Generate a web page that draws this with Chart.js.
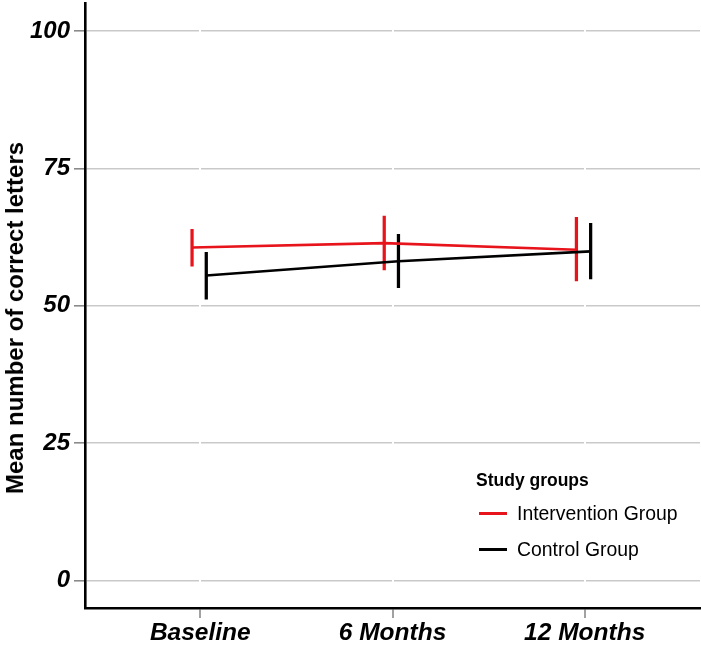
<!DOCTYPE html>
<html>
<head>
<meta charset="utf-8">
<script src="https://cdn.jsdelivr.net/npm/chart.js@4/dist/chart.umd.min.js"></script>
<style>
html,body{margin:0;padding:0;background:#fff;}
#wrap{position:relative;width:701px;height:645px;overflow:hidden;}
#c{position:absolute;left:0;top:0;}
.lg{position:absolute;font-family:"Liberation Sans",Arial,sans-serif;color:#000;white-space:nowrap;line-height:1;}
.lgTitle{font-weight:bold;font-size:17.5px;}
.lgText{font-size:19.4px;}
.lgLine{position:absolute;height:3px;width:28px;}
#ytitle{position:absolute;left:15px;top:318px;transform:translate(-50%,-50%) rotate(-90deg);font-family:"Liberation Sans",Arial,sans-serif;font-weight:bold;font-size:24px;line-height:1;white-space:nowrap;color:#000;}
</style>
</head>
<body>
<div id="wrap">
<canvas id="c" width="701" height="645"></canvas>
<div id="ytitle"></div>
<div id="legend"></div>
</div>
<script>
// ---- data ----
const timepoints = ['Baseline', '6 Months', '12 Months'];
const groupNames = ['Intervention Group', 'Control Group'];
const legendTitle = 'Study groups';
const yTitle = 'Mean number of correct letters';
const interventionMean = [60.6, 61.4, 60.2];
const interventionLow  = [57.2, 56.5, 54.5];
const interventionHigh = [63.9, 66.3, 66.1];
const controlMean = [55.5, 58.1, 59.9];
const controlLow  = [51.2, 53.3, 54.9];
const controlHigh = [59.7, 63.0, 65.0];
const yTicks = [0, 25, 50, 75, 100];

// ---- styling ----
const RED = '#e8141c';
const BLACK = '#000000';
const DODGE = [-0.043, 0.031];
const FONT = '"Liberation Sans", Arial, sans-serif';

function pts(vals, g) {
  return vals.map((v, i) => ({x: i + 1 + DODGE[g], y: v}));
}
function bars(lo, hi, g) {
  return lo.map((v, i) => ({x: i + 1 + DODGE[g], y: [v, hi[i]]}));
}

const datasets = [
  {type: 'line', label: groupNames[0], data: pts(interventionMean, 0), borderColor: RED, borderWidth: 2.6, pointRadius: 0, tension: 0, fill: false},
  {type: 'line', label: groupNames[1], data: pts(controlMean, 1), borderColor: BLACK, borderWidth: 2.6, pointRadius: 0, tension: 0, fill: false},
  {type: 'bar', label: groupNames[0] + ' range', data: bars(interventionLow, interventionHigh, 0), backgroundColor: RED, borderWidth: 0, barThickness: 2.6, grouped: false},
  {type: 'bar', label: groupNames[1] + ' range', data: bars(controlLow, controlHigh, 1), backgroundColor: BLACK, borderWidth: 0, barThickness: 2.6, grouped: false}
];

new Chart(document.getElementById('c'), {
  type: 'line',
  data: {datasets},
  options: {
    responsive: false,
    devicePixelRatio: 1,
    animation: false,
    layout: {padding: {top: 3.5, right: 1, left: 0, bottom: 0}},
    plugins: {legend: {display: false}, tooltip: {enabled: false}},
    scales: {
      y: {
        type: 'linear', min: -5, max: 105,
        afterBuildTicks: s => { s.ticks = yTicks.map(v => ({value: v})); },
        afterFit: s => { s.width = 85; s.paddingTop = 0; s.paddingBottom = 0; },
        grid: {offset: false, color: '#c9c9c9', lineWidth: 1.6, tickLength: 11, tickColor: '#8a8a8a', tickWidth: 1.6, z: -1},
        border: {display: true, color: '#000', width: 2.6},
        ticks: {color: '#000', padding: 4, font: {family: FONT, size: 24, style: 'italic', weight: 'bold'}},
        title: {display: false}
      },
      x: {
        type: 'linear', min: 0.4, max: 3.6, offset: false,
        afterBuildTicks: s => { s.ticks = timepoints.map((t, i) => ({value: i + 1})); },
        afterFit: s => { s.height = 37; s.paddingLeft = 0; s.paddingRight = 0; },
        grid: {offset: false, color: '#ffffff', lineWidth: 2, tickLength: 10, tickColor: '#8a8a8a', tickWidth: 1.6, z: 0},
        border: {display: true, color: '#000', width: 2.6},
        ticks: {color: '#000', padding: 1, maxRotation: 0, autoSkip: false,
          callback: v => timepoints[Math.round(v) - 1],
          font: {family: FONT, size: 24.5, style: 'italic', weight: 'bold'}}
      }
    }
  }
});

// axis title (HTML text)
document.getElementById('ytitle').textContent = yTitle;

// legend (HTML text) built from the dataset names
const lg = document.getElementById('legend');
const t = document.createElement('div');
t.className = 'lg lgTitle'; t.textContent = legendTitle;
t.style.left = '476px'; t.style.top = '472px';
lg.appendChild(t);
const rowY = [513, 549];
[RED, BLACK].forEach((col, i) => {
  const ln = document.createElement('div');
  ln.className = 'lgLine'; ln.style.background = col;
  ln.style.left = '479px'; ln.style.top = (rowY[i] - 1.5) + 'px';
  lg.appendChild(ln);
  const tx = document.createElement('div');
  tx.className = 'lg lgText'; tx.textContent = groupNames[i];
  tx.style.left = '517px'; tx.style.top = (rowY[i] - 9) + 'px';
  lg.appendChild(tx);
});
</script>
</body>
</html>
